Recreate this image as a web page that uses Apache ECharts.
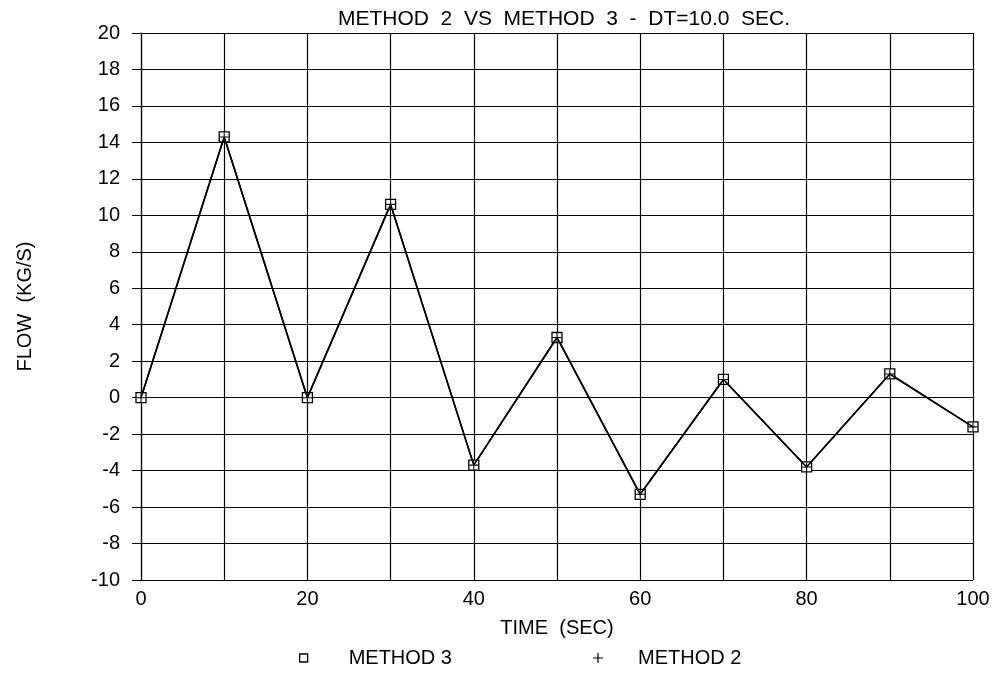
<!DOCTYPE html>
<html>
<head>
<meta charset="utf-8">
<script src="https://cdn.jsdelivr.net/npm/echarts@6/dist/echarts.min.js"></script>
<style>
  html, body { margin: 0; padding: 0; background: #fff; }
  #chart { width: 1000px; height: 682px; }
</style>
</head>
<body>
<div id="chart"></div>
<script>
// time points (sec)
var times = [0, 10, 20, 30, 40, 50, 60, 70, 80, 90, 100];
// flow (kg/s)
var method3 = [0, 14.3, 0, 10.6, -3.7, 3.3, -5.3, 1.0, -3.8, 1.3, -1.6];
var method2 = [0, 14.3, 0, 10.6, -3.7, 3.3, -5.3, 1.0, -3.8, 1.3, -1.6];

var FONT = '"Liberation Sans", Arial, sans-serif';
var plusPath = 'path://M4.4,0h1.2v4.4h4.4v1.2h-4.4v4.4h-1.2v-4.4h-4.4v-1.2h4.4z';

function pairs(xs, ys) {
  return xs.map(function (x, i) { return [x, ys[i]]; });
}

var chart = echarts.init(document.getElementById('chart'));

var option = {
  backgroundColor: '#fff',
  animation: false,
  title: {
    text: 'METHOD  2  VS  METHOD  3  -  DT=10.0  SEC.',
    left: 559,
    textAlign: 'center',
    top: 4,
    textStyle: { fontFamily: FONT, fontSize: 21, fontWeight: 'normal', color: '#000' }
  },
  grid: { left: 141, right: 27, top: 33, bottom: 102 },
  legend: [{
    left: 294,
    top: 643,
    itemWidth: 8,
    itemHeight: 8,
    data: [{ name: 'METHOD 3', icon: 'rect', itemStyle: { color: '#fff', borderColor: '#000', borderWidth: 1.3 } }],
    textStyle: { fontFamily: FONT, fontSize: 20, color: '#000', padding: [0, 0, 0, 36] },
    selectedMode: false
  }, {
    left: 588,
    top: 643,
    itemWidth: 10,
    itemHeight: 10,
    data: [{ name: 'METHOD 2', icon: plusPath, itemStyle: { color: '#000', borderWidth: 0 } }],
    textStyle: { fontFamily: FONT, fontSize: 20, color: '#000', padding: [0, 0, 0, 30] },
    selectedMode: false
  }],
  xAxis: {
    type: 'value',
    min: 0,
    max: 100,
    interval: 10,
    name: 'TIME  (SEC)',
    nameLocation: 'middle',
    nameGap: 38,
    nameTextStyle: { fontFamily: FONT, fontSize: 20, color: '#000' },
    axisLine: { lineStyle: { color: '#000', width: 1.2 } },
    axisTick: { show: true, length: 7, lineStyle: { color: '#000' } },
    axisLabel: {
      margin: 9,
      fontFamily: FONT, fontSize: 20, color: '#000',
      formatter: function (v) { return v % 20 === 0 ? String(v) : ''; }
    },
    splitLine: { show: true, lineStyle: { color: '#000', width: 1.2 } }
  },
  yAxis: {
    type: 'value',
    min: -10,
    max: 20,
    interval: 2,
    name: 'FLOW  (KG/S)',
    nameLocation: 'middle',
    nameRotate: 90,
    nameGap: 106,
    nameTextStyle: { fontFamily: FONT, fontSize: 20, color: '#000' },
    axisLine: { show: true, lineStyle: { color: '#000', width: 1.2 } },
    axisTick: { show: true, length: 9, lineStyle: { color: '#000' } },
    axisLabel: { margin: 21, fontFamily: FONT, fontSize: 20, color: '#000' },
    splitLine: { show: true, lineStyle: { color: '#000', width: 1.2 } }
  },
  series: [{
    name: 'METHOD 3',
    type: 'line',
    data: pairs(times, method3),
    symbol: 'rect',
    symbolSize: 10,
    itemStyle: { color: '#fff', borderColor: '#000', borderWidth: 1.3 },
    lineStyle: { color: '#000', width: 1.6 },
    z: 3
  }, {
    name: 'METHOD 2',
    type: 'line',
    data: pairs(times, method2),
    symbol: plusPath,
    symbolSize: 9,
    itemStyle: { color: '#000', borderWidth: 0 },
    lineStyle: { color: '#000', width: 1.6 },
    z: 4
  }]
};

chart.setOption(option);
</script>
</body>
</html>
